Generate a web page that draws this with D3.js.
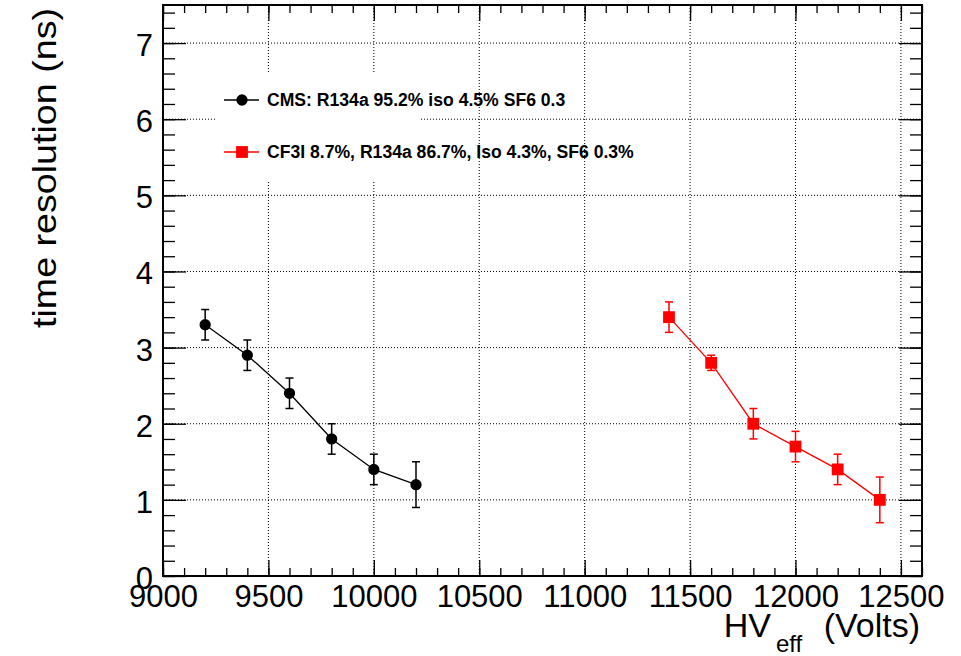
<!DOCTYPE html>
<html lang="en">
<head>
<meta charset="UTF-8">
<title>Time resolution vs HV</title>
<style>
    body{ margin:0; background:#fff; }
    svg{ display:block; background:#fff; }
    text{ font-family: "Liberation Sans", Arial, Helvetica, sans-serif; }
    .axis text{ font-size:31px; fill:#000; }
    .axis path{ display:none; }
    .axis line{ stroke:#000; stroke-width:1.3px; }
    .grid line{ stroke:#000; stroke-width:1px; stroke-dasharray:1,2; }
    .legend text{ font-size:17.6px; font-weight:bold; }
</style>
<script src="https://cdn.jsdelivr.net/npm/d3@7"></script>
</head>
<body>
<svg id="main" width="961" height="656"></svg>
<script>
    // data
    const cmsHV   = [9200, 9400, 9600, 9800, 10000, 10200];
    const cmsRes  = [3.3, 2.9, 2.4, 1.8, 1.4, 1.2];
    const cmsErr  = [0.2, 0.2, 0.2, 0.2, 0.2, 0.3];
    const cf3iHV  = [11400, 11600, 11800, 12000, 12200, 12400];
    const cf3iRes = [3.4, 2.8, 2.0, 1.7, 1.4, 1.0];
    const cf3iErr = [0.2, 0.1, 0.2, 0.2, 0.2, 0.3];
    const xMajor = [9000, 9500, 10000, 10500, 11000, 11500, 12000, 12500];
    const yMajor = [0, 1, 2, 3, 4, 5, 6, 7];
    const legendLabels = ["CMS: R134a 95.2% iso 4.5% SF6 0.3",
                          "CF3I 8.7%, R134a 86.7%, Iso 4.3%, SF6 0.3%"];

    const margins = {top:5, bottom:80, left:163, right:39};
    const W = 961, H = 656;
    const svg = d3.select("#main");

    const xScale = d3.scaleLinear().domain([9000, 12600]).range([margins.left, W - margins.right]);
    const yScale = d3.scaleLinear().domain([0, 7.5]).range([H - margins.bottom, margins.top]);

    const xMinor = d3.range(9000, 12601, 100);
    const yMinor = d3.range(0, 7.51, 0.2);

    // grid
    const grid = svg.append("g").attr("class","grid");
    grid.selectAll(".gx").data(xMajor.filter(d=>d>9000)).enter().append("line")
        .attr("x1",d=>xScale(d)).attr("x2",d=>xScale(d))
        .attr("y1",yScale.range()[0]).attr("y2",yScale.range()[1]);
    grid.selectAll(".gy").data(yMajor.filter(d=>d>0)).enter().append("line")
        .attr("y1",d=>yScale(d)).attr("y2",d=>yScale(d))
        .attr("x1",xScale.range()[0]).attr("x2",xScale.range()[1]);

    // legend box hides part of the grid
    svg.append("rect")
        .attr("x", 215).attr("y", 72).attr("width", 205).attr("height", 108)
        .attr("fill","#fff");

    // axes (ticks inside the frame on all four sides)
    const x0 = yScale(0), x1 = yScale(7.5);
    svg.append("g").attr("class","axis")
        .attr("transform",`translate(0,${x0})`)
        .call(d3.axisBottom(xScale).tickValues(xMinor).tickSizeInner(-8).tickSizeOuter(0).tickFormat(""));
    svg.append("g").attr("class","axis")
        .attr("transform",`translate(0,${x0})`)
        .call(d3.axisBottom(xScale).tickValues(xMajor).tickSizeInner(-16).tickSizeOuter(0).tickPadding(9).tickFormat(d3.format("d")));
    svg.append("g").attr("class","axis")
        .attr("transform",`translate(0,${x1})`)
        .call(d3.axisTop(xScale).tickValues(xMinor).tickSizeInner(-8).tickSizeOuter(0).tickFormat(""));
    svg.append("g").attr("class","axis")
        .attr("transform",`translate(0,${x1})`)
        .call(d3.axisTop(xScale).tickValues(xMajor).tickSizeInner(-16).tickSizeOuter(0).tickFormat(""));

    const yl = xScale(9000), yr = xScale(12600);
    svg.append("g").attr("class","axis")
        .attr("transform",`translate(${yl},0)`)
        .call(d3.axisLeft(yScale).tickValues(yMinor).tickSizeInner(-12).tickSizeOuter(0).tickFormat(""));
    const yAx = svg.append("g").attr("class","axis")
        .attr("transform",`translate(${yl},0)`)
        .call(d3.axisLeft(yScale).tickValues(yMajor).tickSizeInner(-23).tickSizeOuter(0).tickPadding(10).tickFormat(d3.format("d")));
    yAx.selectAll("text").attr("dy","0.40em");
    svg.append("g").attr("class","axis")
        .attr("transform",`translate(${yr},0)`)
        .call(d3.axisRight(yScale).tickValues(yMinor).tickSizeInner(-12).tickSizeOuter(0).tickFormat(""));
    svg.append("g").attr("class","axis")
        .attr("transform",`translate(${yr},0)`)
        .call(d3.axisRight(yScale).tickValues(yMajor).tickSizeInner(-23).tickSizeOuter(0).tickFormat(""));

    // frame
    svg.append("rect")
        .attr("x", yl).attr("y", x1).attr("width", yr - yl).attr("height", x0 - x1)
        .attr("fill","none").attr("stroke","#000").attr("stroke-width",2);

    // series
    function drawSeries(hv, res, err, color, shape){
        const pts = hv.map((h,i)=>({x:h, y:res[i], e:err[i]}));
        const g = svg.append("g");
        g.append("path").datum(pts)
            .attr("d", d3.line().x(d=>xScale(d.x)).y(d=>yScale(d.y)))
            .attr("fill","none").attr("stroke",color).attr("stroke-width",1.3);
        const eb = g.selectAll(".err").data(pts).enter().append("g")
            .attr("stroke",color).attr("stroke-width",1.5);
        eb.append("line")
            .attr("x1",d=>xScale(d.x)).attr("x2",d=>xScale(d.x))
            .attr("y1",d=>yScale(d.y - d.e)).attr("y2",d=>yScale(d.y + d.e));
        eb.append("line")
            .attr("x1",d=>xScale(d.x)-4).attr("x2",d=>xScale(d.x)+4)
            .attr("y1",d=>yScale(d.y - d.e)).attr("y2",d=>yScale(d.y - d.e));
        eb.append("line")
            .attr("x1",d=>xScale(d.x)-4).attr("x2",d=>xScale(d.x)+4)
            .attr("y1",d=>yScale(d.y + d.e)).attr("y2",d=>yScale(d.y + d.e));
        g.selectAll(".mk").data(pts).enter().append("path")
            .attr("transform",d=>`translate(${xScale(d.x)},${yScale(d.y)})`)
            .attr("d", d3.symbol().type(shape).size(shape===d3.symbolCircle ? 100 : 140))
            .attr("fill",color);
    }
    drawSeries(cmsHV, cmsRes, cmsErr, "#000", d3.symbolCircle);
    drawSeries(cf3iHV, cf3iRes, cf3iErr, "#ff0000", d3.symbolSquare);

    // legend
    const legend = svg.append("g").attr("class","legend");
    const legendItems = [
        {label: legendLabels[0], color:"#000", shape:d3.symbolCircle, size:100, y:100},
        {label: legendLabels[1], color:"#ff0000", shape:d3.symbolSquare, size:140, y:152}
    ];
    legendItems.forEach(it=>{
        legend.append("line")
            .attr("x1",224).attr("x2",259).attr("y1",it.y).attr("y2",it.y)
            .attr("stroke",it.color).attr("stroke-width",1.3);
        legend.append("path")
            .attr("transform",`translate(242,${it.y})`)
            .attr("d", d3.symbol().type(it.shape).size(it.size))
            .attr("fill",it.color);
        legend.append("text")
            .attr("x",267).attr("y",it.y + 6)
            .text(it.label);
    });

    // axis titles
    svg.append("text")
        .attr("transform","translate(56,8) rotate(-90)")
        .attr("text-anchor","end")
        .attr("textLength", 320)
        .attr("lengthAdjust","spacingAndGlyphs")
        .style("font-size","33px")
        .text("time resolution (ns)");

    const xt = svg.append("text")
        .attr("x", 920).attr("y", 637)
        .attr("text-anchor","end")
        .style("font-size","34px");
    xt.append("tspan").text("HV");
    xt.append("tspan").attr("dx", 5).attr("dy", 15).style("font-size","24px").text("eff");
    xt.append("tspan").attr("dx", 12).attr("dy", -15).text(" (Volts)");
</script>
</body>
</html>
